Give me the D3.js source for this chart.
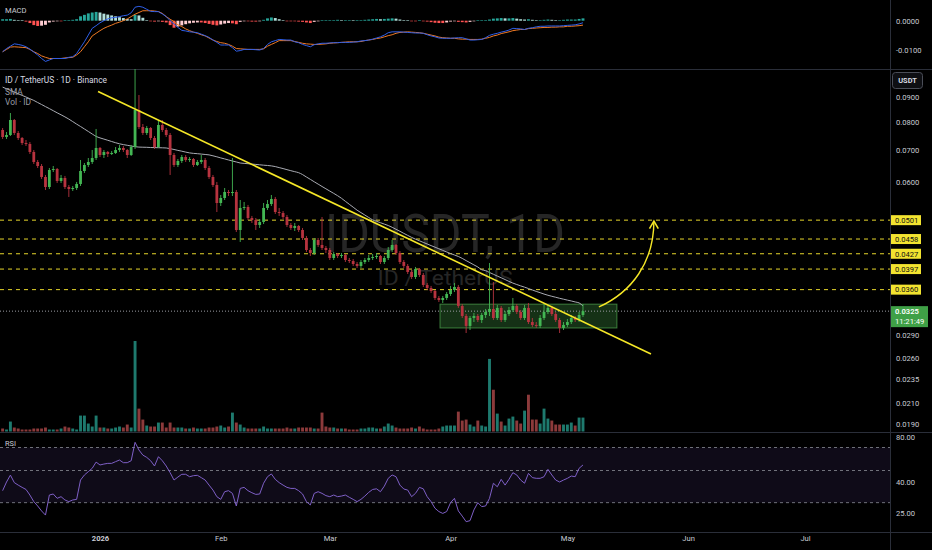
<!DOCTYPE html>
<html>
<head>
<meta charset="utf-8">
<script src="https://cdn.jsdelivr.net/npm/d3@7"></script>
<style>
html, body { margin: 0; padding: 0; background: #000; }
svg { display: block; font-family: Roboto, "Liberation Sans", sans-serif; }
</style>
</head>
<body>
<script>
// ---- data (ID/USDT, 1D, Binance) ----
const firstDay = '2025-12-07';
const firstOpen = 0.07693;

const closes = [
  0.07441, 0.07512, 0.08067, 0.07584, 0.07406, 0.07231, 0.07197, 0.06929, 0.06607, 0.06482,
  0.06152, 0.05866, 0.06360, 0.06390, 0.06036, 0.06123, 0.05866, 0.05810, 0.05838, 0.05951,
  0.06330, 0.06513, 0.06607, 0.06733, 0.07062, 0.06830, 0.06929, 0.06863, 0.06896, 0.06995,
  0.07062, 0.06995, 0.06830, 0.07095, 0.08460, 0.07803, 0.07584, 0.07766, 0.07406, 0.07095,
  0.07878, 0.07693, 0.07512, 0.06830, 0.06513, 0.06638, 0.06765, 0.06670, 0.06701, 0.06513,
  0.06607, 0.06670, 0.06421, 0.06152, 0.05922, 0.05436, 0.05567, 0.05728, 0.05701, 0.05728,
  0.04781, 0.05309, 0.05334, 0.05062, 0.05014, 0.04896, 0.04967, 0.05309, 0.05410, 0.05541,
  0.05208, 0.05183, 0.05086, 0.04896, 0.04827, 0.04873, 0.04781, 0.04603, 0.04347, 0.04285,
  0.04559, 0.04452, 0.04389, 0.04347, 0.04185, 0.04265, 0.04225, 0.04245, 0.04145, 0.04125,
  0.04067, 0.04029, 0.04106, 0.04145, 0.04185, 0.04205, 0.04225, 0.04106, 0.04185, 0.04347,
  0.04452, 0.04285, 0.04106, 0.04029, 0.03916, 0.03823, 0.03972, 0.03860, 0.03681, 0.03629,
  0.03577, 0.03460, 0.03427, 0.03460, 0.03526, 0.03594, 0.03646, 0.03331, 0.03176, 0.03029,
  0.03146, 0.03176, 0.03116, 0.03191, 0.03237, 0.03284, 0.03146, 0.03300, 0.03116, 0.03206,
  0.03268, 0.03331, 0.03237, 0.03146, 0.03300, 0.03086, 0.03043, 0.03029, 0.03146, 0.03237,
  0.03300, 0.03206, 0.03116, 0.03000, 0.03043, 0.03086, 0.03146, 0.03116, 0.03191, 0.03250
];
const highs = [
  0.07766, 0.07620, 0.08340, 0.08106, 0.07656, 0.07441, 0.07335, 0.07266, 0.06995, 0.06670,
  0.06544, 0.06211, 0.06421, 0.06482, 0.06421, 0.06211, 0.06182, 0.05922, 0.05894, 0.06008,
  0.06670, 0.06575, 0.06733, 0.06995, 0.07730, 0.07095, 0.06995, 0.06962, 0.06962, 0.07095,
  0.07163, 0.07129, 0.07028, 0.07163, 0.10331, 0.09086, 0.07915, 0.07841, 0.07803, 0.07476,
  0.08067, 0.08067, 0.07766, 0.07584, 0.06896, 0.06701, 0.06830, 0.06830, 0.06765, 0.06733,
  0.06670, 0.06830, 0.06733, 0.06482, 0.06211, 0.06008, 0.05647, 0.05838, 0.05783, 0.06733,
  0.05783, 0.05514, 0.05462, 0.05385, 0.05111, 0.05062, 0.05038, 0.05436, 0.05514, 0.05647,
  0.05594, 0.05309, 0.05233, 0.05135, 0.04943, 0.04943, 0.04896, 0.04827, 0.04647, 0.04389,
  0.04603, 0.04603, 0.05086, 0.04431, 0.04389, 0.04306, 0.04285, 0.04285, 0.04265, 0.04185,
  0.04165, 0.04106, 0.04145, 0.04185, 0.04245, 0.04265, 0.04285, 0.04245, 0.04225, 0.04410,
  0.04559, 0.04473, 0.04326, 0.04145, 0.04067, 0.03953, 0.04010, 0.03991, 0.03897, 0.03716,
  0.03664, 0.03594, 0.03493, 0.03493, 0.03560, 0.03664, 0.03716, 0.03681, 0.03362, 0.03206,
  0.03176, 0.03222, 0.03206, 0.03222, 0.03284, 0.04086, 0.03733, 0.03347, 0.03331, 0.03252,
  0.03315, 0.03460, 0.03362, 0.03268, 0.03347, 0.03378, 0.03146, 0.03086, 0.03191, 0.03362,
  0.03347, 0.03331, 0.03237, 0.03146, 0.03086, 0.03131, 0.03191, 0.03176, 0.03237, 0.03362
];
const lows = [
  0.07370, 0.07370, 0.07476, 0.07512, 0.07335, 0.07163, 0.07129, 0.06863, 0.06544, 0.06421,
  0.06094, 0.05783, 0.05810, 0.06300, 0.05979, 0.05979, 0.05810, 0.05594, 0.05756, 0.05783,
  0.05894, 0.06270, 0.06451, 0.06544, 0.06670, 0.06765, 0.06733, 0.06765, 0.06830, 0.06863,
  0.06929, 0.06929, 0.06733, 0.06798, 0.07028, 0.07730, 0.07512, 0.07512, 0.07335, 0.07028,
  0.07062, 0.07620, 0.07441, 0.06211, 0.06451, 0.06451, 0.06575, 0.06607, 0.06607, 0.06451,
  0.06482, 0.06544, 0.06360, 0.06094, 0.05866, 0.05208, 0.05359, 0.05514, 0.05620, 0.05620,
  0.04736, 0.04516, 0.05258, 0.05014, 0.04943, 0.04781, 0.04827, 0.04919, 0.05258, 0.05359,
  0.05159, 0.05111, 0.05038, 0.04850, 0.04781, 0.04758, 0.04736, 0.04559, 0.04306, 0.04225,
  0.04245, 0.04410, 0.04347, 0.04285, 0.04145, 0.04145, 0.04185, 0.04185, 0.04106, 0.04086,
  0.04029, 0.03991, 0.03991, 0.04067, 0.04106, 0.04145, 0.04165, 0.04067, 0.04067, 0.04145,
  0.04306, 0.04245, 0.04067, 0.03991, 0.03878, 0.03787, 0.03787, 0.03823, 0.03646, 0.03594,
  0.03543, 0.03427, 0.03395, 0.03378, 0.03427, 0.03493, 0.03560, 0.03300, 0.03146, 0.02929,
  0.02971, 0.03086, 0.03086, 0.03072, 0.03146, 0.03176, 0.03116, 0.03116, 0.03086, 0.03086,
  0.03176, 0.03237, 0.03206, 0.03116, 0.03116, 0.03057, 0.03014, 0.03000, 0.03000, 0.03116,
  0.03206, 0.03176, 0.03086, 0.02929, 0.02971, 0.03014, 0.03057, 0.03086, 0.03086, 0.03161
];
// volume, millions of ID
const volumes = [
  3, 2, 10, 4, 3, 2, 2, 2, 3, 3,
  3, 4, 2, 2, 2, 3, 5, 4, 3, 2,
  16, 16, 8, 5, 16, 4, 4, 3, 3, 4,
  5, 4, 7, 4, 91, 23, 12, 6, 5, 5,
  9, 9, 4, 9, 4, 4, 4, 3, 3, 4,
  3, 3, 3, 4, 4, 5, 6, 4, 5, 19,
  9, 7, 4, 3, 3, 3, 3, 5, 3, 3,
  3, 3, 3, 4, 3, 3, 4, 4, 4, 4,
  3, 3, 19, 5, 4, 4, 3, 3, 3, 2,
  2, 2, 3, 3, 4, 4, 3, 3, 5, 8,
  6, 4, 3, 3, 3, 4, 3, 5, 3, 2,
  2, 2, 3, 5, 6, 6, 6, 20, 11, 12,
  7, 5, 11, 6, 5, 73, 42, 18, 10, 6,
  13, 15, 11, 8, 21, 37, 12, 12, 8, 23,
  13, 11, 7, 7, 7, 7, 9, 6, 14, 14
];
const smaValues = [
  0.09434, 0.09358, 0.09287, 0.09213, 0.09142, 0.09069, 0.09000, 0.08927, 0.08855, 0.08767,
  0.08684, 0.08598, 0.08517, 0.08432, 0.08348, 0.08269, 0.08188, 0.08102, 0.08006, 0.07911,
  0.07822, 0.07730, 0.07638, 0.07548, 0.07462, 0.07409, 0.07367, 0.07325, 0.07283, 0.07241,
  0.07204, 0.07176, 0.07153, 0.07129, 0.07105, 0.07092, 0.07088, 0.07085, 0.07078, 0.07075,
  0.07071, 0.07068, 0.07062, 0.07038, 0.07012, 0.06982, 0.06955, 0.06925, 0.06899, 0.06883,
  0.06873, 0.06860, 0.06847, 0.06834, 0.06804, 0.06772, 0.06736, 0.06704, 0.06670, 0.06638,
  0.06607, 0.06575, 0.06563, 0.06553, 0.06541, 0.06531, 0.06519, 0.06507, 0.06498, 0.06485,
  0.06464, 0.06433, 0.06403, 0.06370, 0.06339, 0.06309, 0.06279, 0.06223, 0.06152, 0.06083,
  0.06013, 0.05947, 0.05880, 0.05816, 0.05753, 0.05691, 0.05628, 0.05559, 0.05480, 0.05403,
  0.05329, 0.05253, 0.05193, 0.05133, 0.05074, 0.05017, 0.04983, 0.04950, 0.04917, 0.04884,
  0.04843, 0.04797, 0.04752, 0.04705, 0.04660, 0.04616, 0.04577, 0.04542, 0.04507, 0.04473,
  0.04439, 0.04406, 0.04372, 0.04339, 0.04306, 0.04275, 0.04245, 0.04215, 0.04177, 0.04133,
  0.04092, 0.04050, 0.04010, 0.03957, 0.03940, 0.03906, 0.03873, 0.03840, 0.03809, 0.03777,
  0.03744, 0.03714, 0.03689, 0.03665, 0.03643, 0.03619, 0.03594, 0.03570, 0.03548, 0.03525,
  0.03505, 0.03488, 0.03472, 0.03455, 0.03440, 0.03425, 0.03411, 0.03395, 0.03380, 0.03331
];
const macdLine = [
  -0.0106, -0.0095, -0.0087, -0.0079, -0.0081, -0.0084, -0.0089, -0.0097, -0.0107, -0.0117,
  -0.0129, -0.0139, -0.0134, -0.0129, -0.0129, -0.0129, -0.0129, -0.0125, -0.0123, -0.0112,
  -0.0092, -0.0072, -0.0049, -0.0026, -0.0017, -0.0007, 0.0000, 0.0006, 0.0010, 0.0011,
  0.0014, 0.0017, 0.0019, 0.0027, 0.0046, 0.0049, 0.0046, 0.0039, 0.0032, 0.0031,
  0.0031, 0.0023, 0.0014, 0.0000, -0.0011, -0.0023, -0.0033, -0.0035, -0.0038, -0.0039,
  -0.0041, -0.0046, -0.0051, -0.0057, -0.0066, -0.0074, -0.0083, -0.0083, -0.0083, -0.0092,
  -0.0104, -0.0102, -0.0098, -0.0098, -0.0098, -0.0099, -0.0100, -0.0095, -0.0081, -0.0072,
  -0.0068, -0.0064, -0.0065, -0.0066, -0.0066, -0.0072, -0.0075, -0.0081, -0.0085, -0.0089,
  -0.0082, -0.0079, -0.0077, -0.0077, -0.0076, -0.0075, -0.0075, -0.0074, -0.0074, -0.0074,
  -0.0073, -0.0072, -0.0069, -0.0068, -0.0066, -0.0063, -0.0059, -0.0055, -0.0049, -0.0041,
  -0.0038, -0.0038, -0.0038, -0.0039, -0.0040, -0.0041, -0.0042, -0.0042, -0.0043, -0.0048,
  -0.0052, -0.0055, -0.0059, -0.0060, -0.0060, -0.0060, -0.0059, -0.0058, -0.0058, -0.0062,
  -0.0066, -0.0066, -0.0065, -0.0064, -0.0058, -0.0050, -0.0046, -0.0043, -0.0039, -0.0036,
  -0.0032, -0.0026, -0.0027, -0.0028, -0.0030, -0.0026, -0.0024, -0.0021, -0.0019, -0.0019,
  -0.0018, -0.0018, -0.0018, -0.0018, -0.0017, -0.0016, -0.0015, -0.0014, -0.0011, -0.0007
];
const signalLine = [
  -0.0106, -0.0098, -0.0090, -0.0089, -0.0090, -0.0091, -0.0092, -0.0098, -0.0106, -0.0112,
  -0.0120, -0.0125, -0.0129, -0.0129, -0.0129, -0.0129, -0.0127, -0.0126, -0.0125, -0.0117,
  -0.0106, -0.0089, -0.0072, -0.0052, -0.0043, -0.0034, -0.0026, -0.0020, -0.0015, -0.0009,
  -0.0005, 0.0000, 0.0006, 0.0014, 0.0022, 0.0028, 0.0034, 0.0034, 0.0034, 0.0033,
  0.0031, 0.0025, 0.0014, 0.0005, -0.0003, -0.0014, -0.0020, -0.0028, -0.0034, -0.0039,
  -0.0043, -0.0048, -0.0052, -0.0059, -0.0066, -0.0071, -0.0075, -0.0077, -0.0081, -0.0087,
  -0.0095, -0.0096, -0.0097, -0.0098, -0.0098, -0.0098, -0.0098, -0.0096, -0.0087, -0.0081,
  -0.0075, -0.0068, -0.0068, -0.0068, -0.0068, -0.0071, -0.0074, -0.0077, -0.0079, -0.0080,
  -0.0081, -0.0081, -0.0080, -0.0079, -0.0077, -0.0076, -0.0075, -0.0074, -0.0073, -0.0072,
  -0.0072, -0.0072, -0.0071, -0.0068, -0.0066, -0.0064, -0.0061, -0.0059, -0.0055, -0.0051,
  -0.0048, -0.0043, -0.0040, -0.0039, -0.0038, -0.0039, -0.0040, -0.0041, -0.0043, -0.0046,
  -0.0049, -0.0052, -0.0056, -0.0058, -0.0059, -0.0060, -0.0060, -0.0062, -0.0063, -0.0063,
  -0.0064, -0.0064, -0.0064, -0.0063, -0.0060, -0.0057, -0.0052, -0.0049, -0.0044, -0.0041,
  -0.0038, -0.0034, -0.0032, -0.0030, -0.0030, -0.0027, -0.0026, -0.0025, -0.0024, -0.0023,
  -0.0023, -0.0022, -0.0022, -0.0021, -0.0021, -0.0019, -0.0019, -0.0018, -0.0017, -0.0015
];
const macdHist = [
  0.0005, 0.0005, 0.0006, 0.0003, 0.0002, 0.0001, -0.0003, -0.0008, -0.0015, -0.0018,
  -0.0017, -0.0014, -0.0006, -0.0003, -0.0001, -0.0001, 0.0001, 0.0002, 0.0003, 0.0005,
  0.0015, 0.0020, 0.0025, 0.0028, 0.0030, 0.0028, 0.0024, 0.0021, 0.0018, 0.0015,
  0.0012, 0.0009, 0.0006, 0.0005, 0.0020, 0.0018, 0.0010, 0.0002, -0.0001, -0.0003,
  -0.0002, -0.0004, -0.0006, -0.0015, -0.0024, -0.0020, -0.0016, -0.0012, -0.0009, -0.0007,
  -0.0006, -0.0006, -0.0008, -0.0011, -0.0014, -0.0016, -0.0013, -0.0010, -0.0008, -0.0009,
  -0.0012, -0.0004, -0.0002, -0.0002, -0.0003, -0.0003, -0.0002, 0.0003, 0.0008, 0.0011,
  0.0009, 0.0005, 0.0002, -0.0001, -0.0002, -0.0002, -0.0003, -0.0004, -0.0006, -0.0008,
  -0.0004, -0.0002, 0.0001, 0.0002, 0.0002, 0.0002, 0.0003, 0.0002, 0.0002, 0.0002,
  0.0001, 0.0001, 0.0002, 0.0003, 0.0004, 0.0005, 0.0006, 0.0005, 0.0006, 0.0007,
  0.0008, 0.0007, 0.0004, 0.0002, 0.0001, -0.0001, -0.0001, 0.0001, -0.0001, -0.0003,
  -0.0005, -0.0007, -0.0008, -0.0008, -0.0006, -0.0003, -0.0002, -0.0004, -0.0005, -0.0006,
  -0.0004, -0.0002, 0.0001, 0.0001, 0.0002, 0.0004, 0.0007, 0.0008, 0.0009, 0.0008,
  0.0008, 0.0009, 0.0007, 0.0005, 0.0004, 0.0005, 0.0003, 0.0002, 0.0002, 0.0003,
  0.0004, 0.0003, 0.0002, 0.0002, 0.0003, 0.0004, 0.0004, 0.0004, 0.0006, 0.0008
];
const rsiValues = [
  35.8, 40, 46, 39.7, 38.5, 37.4, 36.4, 33.7, 30.5, 28.4,
  26, 24, 33.7, 34.2, 32.1, 32.9, 31.3, 30.5, 31.3, 31.6,
  41.7, 46.1, 49, 51.9, 57.3, 54.8, 55.6, 56.2, 56.2, 57.7,
  59.1, 56.8, 56.8, 58.5, 74.5, 67.8, 63.4, 61.4, 58.5, 53.9,
  62, 58.5, 53.9, 48.1, 41.7, 44.3, 46.7, 46.7, 44.6, 45.5,
  45.8, 43.8, 41.7, 38.5, 36.1, 32.9, 31.6, 35.3, 35.8, 34.5,
  28.4, 36.9, 37.4, 35.8, 34.8, 34, 34.2, 39.4, 44.6, 47,
  42.3, 39.7, 38.5, 37.4, 36.9, 36.9, 35.8, 34.2, 30.5, 28.9,
  34.5, 35.3, 34.5, 33.4, 32.9, 33.7, 32.9, 33.2, 33.7, 32.6,
  31.6, 30.5, 31.6, 33.2, 35, 36.4, 36.7, 35.3, 38, 43.2,
  46.1, 44.6, 38.5, 36.6, 36.1, 32.9, 34.5, 37.4, 36.7, 32.9,
  30.5, 27.3, 25.7, 24.8, 25.7, 30, 32.1, 26, 23.5, 20.8,
  21.3, 26.5, 30, 28.1, 28.4, 32.1, 39.4, 37.7, 42.3, 38.5,
  42.3, 48.1, 46.1, 41.7, 39.4, 47.5, 43.8, 43.2, 43.2, 44.6,
  51, 46.1, 41.7, 40, 41.7, 43.2, 45.2, 44.6, 51.9, 54.8
];

const priceTicks = [0.09, 0.08, 0.07, 0.06, 0.029, 0.026, 0.0235, 0.021, 0.019];
const levelPrices = [0.0501, 0.0458, 0.0427, 0.0397, 0.0360];
const macdTicks = [0, -0.01];
const rsiTicks = [80, 40, 25];
const rsiBands = [70, 50, 30];
const monthTicks = ['2026-01-01', '2026-02-01', '2026-03-01', '2026-04-01', '2026-05-01', '2026-06-01', '2026-07-01'];
const monthLabels = ['2026', 'Feb', 'Mar', 'Apr', 'May', 'Jun', 'Jul'];

// drawings
const trendLine = [['2025-12-31T12:00', 0.0924], ['2026-05-22T11:00', 0.02651]];
const rangeBox = { start: '2026-03-29T07:00', end: '2026-05-13T17:00', top: 0.0336, bottom: 0.0300 };
const arrowPts = [['2026-05-09T02:00', 0.03315], ['2026-05-17T14:00', 0.0356], ['2026-05-23T05:00', 0.04106], ['2026-05-23T05:00', 0.0499]];
const lastPrice = 0.0325;
const countdown = '11:21:49';

// ---- layout ----
const W = 932, H = 550;
const axisX = 890;
const macdPanel = { top: 0, bottom: 69 };
const pricePanel = { top: 69, bottom: 432 };
const rsiPanel = { top: 432, bottom: 532 };

const col = {
  up: '#43b653', down: '#b7333f',
  volUp: '#1e7a6e', volDown: '#8c3a3b',
  grid: '#2a2e39', text: '#c9ccd4',
  level: '#e6d52b', trend: '#f5e727',
  sma: '#a9abb3', macd: '#2f5fe8', signal: '#f07a25',
  rsi: '#7e5fc6'
};

const parseT = s => new Date(s.length > 10 ? s + 'Z' : s + 'T00:00Z');
const t0 = parseT(firstDay);

const candles = closes.map((c, i) => {
  const o = i ? closes[i - 1] : firstOpen;
  return { i, t: d3.utcDay.offset(t0, i), o, c, h: highs[i], l: lows[i], v: volumes[i], up: c >= o };
});

// ---- scales ----
const x = d3.scaleUtc().domain([parseT('2026-01-01'), parseT('2026-07-01')]).range([100, 805]);
const y = d3.scaleLog().domain([0.09, 0.019]).range([97, 424]);
const yVol = d3.scaleLinear().domain([0, 91]).range([431.5, 341]);
const yMacd = d3.scaleLinear().domain([0, -0.01]).range([20.7, 50]);
const yRsi = d3.scaleLinear().domain([25, 40, 80]).range([513, 482, 436]);

const svg = d3.select('body').append('svg').attr('width', W).attr('height', H);
svg.append('rect').attr('width', W).attr('height', H).attr('fill', '#000');

const defs = svg.append('defs');
[['clipMacd', macdPanel], ['clipPrice', pricePanel], ['clipRsi', rsiPanel]].forEach(([id, p]) => {
  defs.append('clipPath').attr('id', id).append('rect')
    .attr('x', 0).attr('y', p.top).attr('width', axisX).attr('height', p.bottom - p.top);
});
defs.append('marker').attr('id', 'arrowHead')
  .attr('viewBox', '0 0 10 10').attr('refX', 8).attr('refY', 5)
  .attr('markerWidth', 11).attr('markerHeight', 11).attr('markerUnits', 'userSpaceOnUse')
  .attr('orient', 'auto')
  .append('path').attr('d', 'M1,1 L8,5 L1,9').attr('fill', 'none')
  .attr('stroke', col.trend).attr('stroke-width', 1.4);

// ---- separators ----
svg.append('g').selectAll('line')
  .data([macdPanel.bottom, pricePanel.bottom, rsiPanel.bottom])
  .join('line')
  .attr('x1', 0).attr('x2', W).attr('y1', d => d + 0.5).attr('y2', d => d + 0.5)
  .attr('stroke', col.grid).attr('stroke-width', 1);
svg.append('line').attr('x1', axisX + 0.5).attr('x2', axisX + 0.5).attr('y1', 0).attr('y2', H)
  .attr('stroke', col.grid);

// ---- MACD panel ----
const gM = svg.append('g').attr('clip-path', 'url(#clipMacd)');
gM.selectAll('rect.hist').data(candles).join('rect').attr('class', 'hist')
  .attr('x', d => x(d.t) - 1.45).attr('width', 2.9)
  .attr('y', d => Math.min(yMacd(macdHist[d.i]), yMacd(0)))
  .attr('height', d => Math.max(0.6, Math.abs(yMacd(macdHist[d.i]) - yMacd(0))))
  .attr('fill', d => {
    const v = macdHist[d.i], prev = d.i ? macdHist[d.i - 1] : v;
    if (v >= 0) return v >= prev ? '#26a69a' : '#b2dfdb';
    return v <= prev ? '#ff5252' : '#ffcdd2';
  });
const macdGen = arr => d3.line().x(d => x(d.t)).y(d => yMacd(arr[d.i]));
gM.append('path').datum(candles).attr('d', macdGen(signalLine))
  .attr('fill', 'none').attr('stroke', col.signal).attr('stroke-width', 1);
gM.append('path').datum(candles).attr('d', macdGen(macdLine))
  .attr('fill', 'none').attr('stroke', col.macd).attr('stroke-width', 1);
svg.append('text').attr('x', 5).attr('y', 13).text('MACD')
  .attr('fill', col.text).attr('font-size', 7.6);

const macdAxis = svg.append('g').attr('transform', `translate(${axisX + 6},0)`)
  .call(d3.axisRight(yMacd).tickValues(macdTicks).tickSize(0).tickFormat(d => d.toFixed(4)));

// ---- price panel ----
const gP = svg.append('g').attr('clip-path', 'url(#clipPrice)');

// watermark
gP.append('text').attr('x', 445).attr('y', 252).attr('text-anchor', 'middle')
  .attr('font-size', 54).attr('textLength', 240).attr('lengthAdjust', 'spacingAndGlyphs')
  .attr('fill', '#262626').text('IDUSDT, 1D');
gP.append('text').attr('x', 445).attr('y', 285).attr('text-anchor', 'middle')
  .attr('font-size', 21).attr('textLength', 135).attr('lengthAdjust', 'spacingAndGlyphs')
  .attr('fill', '#262626').text('ID / TetherUS');

// volume
gP.selectAll('rect.vol').data(candles).join('rect').attr('class', 'vol')
  .attr('x', d => x(d.t) - 1.45).attr('width', 2.9)
  .attr('y', d => yVol(d.v)).attr('height', d => yVol(0) - yVol(d.v))
  .attr('fill', d => d.up ? col.volUp : col.volDown);

// range box
gP.append('rect')
  .attr('x', x(parseT(rangeBox.start))).attr('y', y(rangeBox.top))
  .attr('width', x(parseT(rangeBox.end)) - x(parseT(rangeBox.start)))
  .attr('height', y(rangeBox.bottom) - y(rangeBox.top))
  .attr('fill', 'rgba(76,175,80,0.28)').attr('stroke', 'rgba(90,190,90,0.6)').attr('stroke-width', 1);

// horizontal levels
gP.selectAll('line.level').data(levelPrices).join('line').attr('class', 'level')
  .attr('x1', 0).attr('x2', axisX).attr('y1', d => y(d)).attr('y2', d => y(d))
  .attr('stroke', col.level).attr('stroke-width', 1).attr('stroke-dasharray', '4,4');

// last price line
gP.append('line').attr('x1', 0).attr('x2', axisX).attr('y1', y(lastPrice)).attr('y2', y(lastPrice))
  .attr('stroke', '#9a9ca3').attr('stroke-width', 1).attr('stroke-dasharray', '1,2');

// SMA
gP.append('path').datum(candles)
  .attr('d', d3.line().x(d => x(d.t)).y(d => y(smaValues[d.i])).curve(d3.curveMonotoneX))
  .attr('fill', 'none').attr('stroke', col.sma).attr('stroke-width', 1);

// candles
const gC = gP.append('g');
gC.selectAll('line.wick').data(candles).join('line').attr('class', 'wick')
  .attr('x1', d => x(d.t)).attr('x2', d => x(d.t))
  .attr('y1', d => y(d.h)).attr('y2', d => y(d.l))
  .attr('stroke', d => d.up ? col.up : col.down).attr('stroke-width', 0.9);
gC.selectAll('rect.body').data(candles).join('rect').attr('class', 'body')
  .attr('x', d => x(d.t) - 1.4).attr('width', 2.8)
  .attr('y', d => y(Math.max(d.o, d.c)))
  .attr('height', d => Math.max(0.8, y(Math.min(d.o, d.c)) - y(Math.max(d.o, d.c))))
  .attr('fill', d => d.up ? col.up : col.down);

// trend line
gP.append('line')
  .attr('x1', x(parseT(trendLine[0][0]))).attr('y1', y(trendLine[0][1]))
  .attr('x2', x(parseT(trendLine[1][0]))).attr('y2', y(trendLine[1][1]))
  .attr('stroke', col.trend).attr('stroke-width', 1.6);

// curved arrow
const ap = arrowPts.map(([t, p]) => [x(parseT(t)), y(p)]);
const arrowPath = d3.path();
arrowPath.moveTo(ap[0][0], ap[0][1]);
arrowPath.bezierCurveTo(ap[1][0], ap[1][1], ap[2][0], ap[2][1], ap[3][0], ap[3][1]);
gP.append('path').attr('d', arrowPath.toString()).attr('fill', 'none')
  .attr('stroke', col.trend).attr('stroke-width', 1.4).attr('marker-end', 'url(#arrowHead)');

// legend
svg.append('text').attr('x', 5).attr('y', 83).attr('font-size', 8.6)
  .attr('textLength', 102).attr('lengthAdjust', 'spacingAndGlyphs')
  .attr('fill', '#d8dbe2').text('ID / TetherUS · 1D · Binance');
svg.append('text').attr('x', 5).attr('y', 94.5).attr('font-size', 8.4)
  .attr('fill', '#9a9da6').text('SMA');
svg.append('text').attr('x', 5).attr('y', 105).attr('font-size', 8.4)
  .attr('fill', '#9a9da6').text('Vol · ID');

// price axis
const priceAxis = svg.append('g').attr('transform', `translate(${axisX + 6},0)`)
  .call(d3.axisRight(y).tickValues(priceTicks).tickSize(0).tickFormat(d3.format('.4f')));

// USDT badge
svg.append('rect').attr('x', 892.5).attr('y', 72.5).attr('width', 30).attr('height', 16).attr('rx', 3)
  .attr('fill', '#0e0f13').attr('stroke', '#4a4d57');
svg.append('text').attr('x', 907.5).attr('y', 83.3).attr('text-anchor', 'middle')
  .attr('font-size', 7.4).attr('font-weight', 700).attr('fill', '#d8dbe2').text('USDT');

// level labels
const lvl = svg.append('g').selectAll('g').data(levelPrices).join('g')
  .attr('transform', d => `translate(891,${y(d)})`);
lvl.append('rect').attr('x', 0).attr('y', -5).attr('width', 30).attr('height', 10).attr('fill', '#f2e330');
lvl.append('text').attr('x', 4).attr('y', 2.8).attr('font-size', 7.6).attr('fill', '#111')
  .text(d => d3.format('.4f')(d));

// last price label
const lp = svg.append('g').attr('transform', `translate(891,${y(lastPrice)})`);
lp.append('rect').attr('x', 0).attr('y', -5).attr('width', 37).attr('height', 21).attr('fill', '#3fa046');
lp.append('text').attr('x', 4).attr('y', 2.8).attr('font-size', 7.6).attr('font-weight', 600)
  .attr('fill', '#fff').text(d3.format('.4f')(lastPrice));
lp.append('text').attr('x', 4).attr('y', 12.6).attr('font-size', 7.6)
  .attr('fill', '#fff').text(countdown);

// ---- RSI panel ----
const gR = svg.append('g').attr('clip-path', 'url(#clipRsi)');
gR.append('rect').attr('x', 0).attr('width', axisX)
  .attr('y', yRsi(rsiBands[0])).attr('height', yRsi(rsiBands[2]) - yRsi(rsiBands[0]))
  .attr('fill', 'rgba(126,87,194,0.12)');
gR.selectAll('line.band').data(rsiBands).join('line').attr('class', 'band')
  .attr('x1', 0).attr('x2', axisX).attr('y1', d => yRsi(d)).attr('y2', d => yRsi(d))
  .attr('stroke', '#8a8d96').attr('stroke-width', 0.8).attr('stroke-dasharray', '3,3');
gR.append('path').datum(candles)
  .attr('d', d3.line().x(d => x(d.t)).y(d => yRsi(rsiValues[d.i])))
  .attr('fill', 'none').attr('stroke', col.rsi).attr('stroke-width', 1);
svg.append('text').attr('x', 5).attr('y', 446).attr('font-size', 7.4)
  .attr('fill', col.text).text('RSI');

const rsiAxis = svg.append('g').attr('transform', `translate(${axisX + 6},0)`)
  .call(d3.axisRight(yRsi).tickValues(rsiTicks).tickSize(0).tickFormat(d3.format('.2f')));

// ---- time axis ----
const timeAxis = svg.append('g').attr('transform', `translate(0,${rsiPanel.bottom + 4})`)
  .call(d3.axisBottom(x).tickValues(monthTicks.map(parseT)).tickSize(0)
    .tickFormat((d, i) => monthLabels[i]));
timeAxis.selectAll('text').filter((d, i) => i === 0).attr('font-weight', 700);

// axis styling
[macdAxis, priceAxis, rsiAxis, timeAxis].forEach(g => {
  g.select('.domain').remove();
  g.selectAll('text').attr('fill', col.text).attr('font-size', 7.6)
    .attr('font-family', 'Roboto, "Liberation Sans", sans-serif');
});
[macdAxis, priceAxis, rsiAxis].forEach(g => g.selectAll('text').attr('x', 0));
timeAxis.selectAll('text').attr('dy', '0.71em').attr('y', 0);
// keep the 80.00 label inside the RSI pane
rsiAxis.selectAll('text').filter(d => d === 80).attr('dy', '0.9em').attr('y', -3);
</script>
</body>
</html>
